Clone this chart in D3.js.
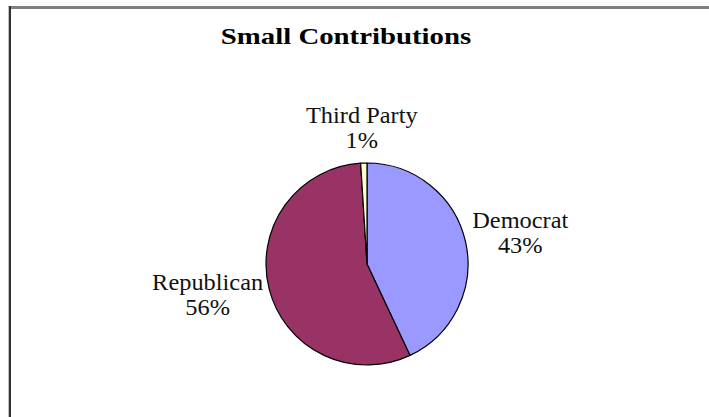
<!DOCTYPE html>
<html>
<head>
<meta charset="utf-8">
<script src="https://cdn.jsdelivr.net/npm/d3@7"></script>
<style>
  html, body { margin: 0; padding: 0; background: #fff; }
  svg { display: block; }
</style>
</head>
<body>
<svg id="chart" width="709" height="417"></svg>
<script>
// ---- data ----
const title = "Small Contributions";
const categories = ["Democrat", "Republican", "Third Party"];
const values = [43, 56, 1];
const colors = ["#9999FF", "#993366", "#FFFFCC"];

// ---- layout ----
const W = 709, H = 417;
const cx = 367, cy = 264, R = 101;
const svg = d3.select("#chart");

svg.append("rect").attr("width", W).attr("height", H).attr("fill", "#fff");
// frame (top + left edges)
svg.append("rect").attr("x", 8).attr("y", 6).attr("width", W - 8).attr("height", 3).attr("fill", "#808080");
svg.append("rect").attr("x", 8).attr("y", 6).attr("width", 1).attr("height", H - 6).attr("fill", "#c0c0c0");
svg.append("rect").attr("x", 9).attr("y", 6).attr("width", 2).attr("height", H - 6).attr("fill", "#333");

// title
const t = svg.append("text")
  .attr("x", 346).attr("y", 44)
  .attr("text-anchor", "middle")
  .attr("font-family", "'Liberation Serif', 'Times New Roman', serif")
  .attr("font-weight", "bold")
  .attr("font-size", 24)
  .attr("fill", "#000")
  .text(title);
const tw = t.node().getComputedTextLength();
t.attr("textLength", tw * 1.2).attr("lengthAdjust", "spacingAndGlyphs");

// pie
const data = categories.map((c, i) => ({ name: c, value: values[i], color: colors[i] }));
const pie = d3.pie().value(d => d.value).sort(null);
const arcs = pie(data);
const arc = d3.arc().innerRadius(0).outerRadius(R);

const g = svg.append("g").attr("transform", `translate(${cx},${cy})`);
g.selectAll("path").data(arcs).join("path")
  .attr("d", arc)
  .attr("fill", d => d.data.color)
  .attr("stroke", "#000")
  .attr("stroke-width", 1.2)
  .attr("stroke-linejoin", "round");

// labels
const fs = 23, lh = 25, stretch = 1.06, gap = 8;
const total = d3.sum(values);
arcs.forEach(a => {
  const mid = (a.startAngle + a.endAngle) / 2;
  const sx = Math.sin(mid), sy = -Math.cos(mid);
  const lines = [a.data.name, Math.round(a.data.value / total * 100) + "%"];
  const lg = svg.append("g");
  const texts = lines.map((s, i) => lg.append("text")
    .attr("text-anchor", "middle")
    .attr("font-family", "'Liberation Serif', 'Times New Roman', serif")
    .attr("font-size", fs)
    .attr("fill", "#111")
    .attr("y", i * lh)
    .text(s));
  let w = 0;
  texts.forEach(tx => {
    const nw = tx.node().getComputedTextLength() * stretch;
    tx.attr("textLength", nw).attr("lengthAdjust", "spacingAndGlyphs");
    w = Math.max(w, nw);
  });
  const h = lh * 2;
  const px = cx + (R + gap) * sx, py = cy + (R + gap) * sy;
  const bx = px + sx * w / 2, by = py + sy * h / 2;
  texts.forEach(tx => tx.attr("x", bx));
  lg.attr("transform", `translate(0,${by - h / 2 + 18})`);
});
</script>
</body>
</html>
